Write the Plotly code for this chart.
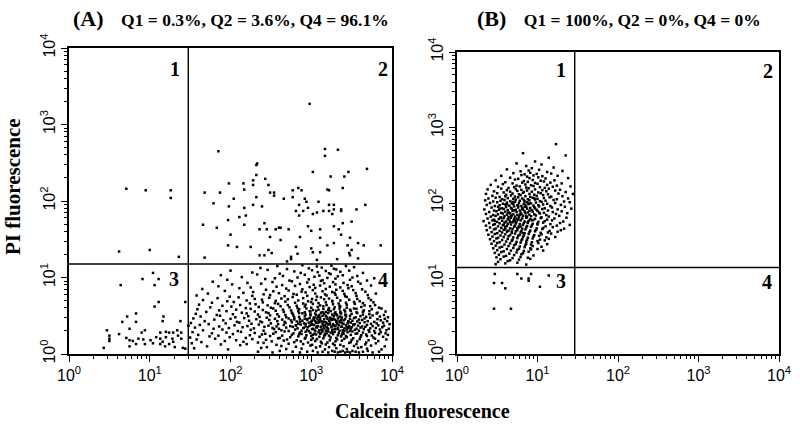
import plotly.graph_objects as go

# ---------------- DATA (log10 decades) ----------------
# Each event: (log10 calcein fluorescence, log10 PI fluorescence)
A_Q1 = [(0.71, 2.16), (0.95, 2.14), (1.26, 2.14), (1.26, 2.04), (0.62, 1.34), (1.00, 1.36), (1.36, 1.27)]

A_Q2 = [(2.98, 3.27), (1.85, 2.65), (3.17, 2.68), (3.33, 2.67), (3.17, 2.59), (2.33, 2.49), (2.32, 2.47),
        (3.02, 2.38), (3.69, 2.42), (3.46, 2.38), (2.32, 2.34), (3.24, 2.32), (3.41, 2.32), (2.28, 2.27),
        (2.43, 2.29), (1.98, 2.23), (2.16, 2.23), (2.28, 2.21), (2.47, 2.21), (2.17, 2.15), (1.68, 2.11),
        (1.87, 2.11), (2.49, 2.11), (2.54, 2.11), (2.54, 2.07), (2.84, 2.17), (2.88, 2.14), (2.77, 2.14),
        (3.20, 2.15), (3.22, 2.14), (3.39, 2.17), (2.32, 2.05), (2.04, 2.03), (2.66, 2.03), (2.77, 2.05),
        (2.92, 2.03), (2.94, 1.99), (3.09, 1.99), (1.79, 1.97), (1.98, 1.93), (2.28, 1.95), (2.39, 1.93),
        (2.17, 1.91), (2.85, 1.95), (2.96, 1.91), (3.22, 1.95), (3.28, 1.95), (3.67, 1.95), (2.81, 1.87),
        (2.90, 1.87), (3.07, 1.85), (3.15, 1.87), (3.22, 1.87), (3.28, 1.89), (3.37, 1.89), (3.37, 1.87),
        (3.56, 1.89), (2.19, 1.81), (2.11, 1.79), (2.85, 1.81), (3.02, 1.83), (3.26, 1.83), (1.97, 1.75),
        (2.17, 1.69), (1.66, 1.69), (1.83, 1.65), (2.42, 1.71), (3.39, 1.71), (3.50, 1.73), (2.36, 1.63),
        (2.45, 1.63), (2.56, 1.63), (2.60, 1.65), (2.62, 1.65), (2.72, 1.63), (2.96, 1.67), (3.00, 1.61),
        (3.11, 1.63), (3.28, 1.67), (3.34, 1.63), (2.00, 1.56), (2.49, 1.53), (2.62, 1.49), (2.86, 1.53),
        (3.11, 1.52), (3.37, 1.56), (3.48, 1.52), (1.97, 1.42), (2.08, 1.40), (2.25, 1.40), (2.81, 1.40),
        (3.00, 1.38), (3.20, 1.42), (3.28, 1.45), (3.45, 1.42), (3.58, 1.45), (3.65, 1.42), (3.86, 1.42),
        (2.47, 1.36), (2.51, 1.32), (2.36, 1.29), (2.42, 1.29), (2.83, 1.31), (3.02, 1.33), (3.11, 1.33),
        (3.47, 1.32), (3.48, 1.29), (3.50, 1.36), (2.75, 1.27), (2.70, 1.21), (2.75, 1.24), (3.32, 1.24),
        (3.58, 1.25), (1.68, 1.26), (3.07, 1.23)]

A_Q3 = [(1.04, 1.06), (0.91, 0.98), (1.06, 0.90), (0.64, 0.90), (1.11, 0.98), (1.44, 0.68), (1.06, 0.62),
        (1.11, 0.68), (0.72, 0.49), (0.83, 0.53), (1.17, 0.49), (1.16, 0.43), (0.66, 0.42), (0.83, 0.42),
        (1.38, 0.43), (0.75, 0.33), (0.47, 0.31), (0.94, 0.31), (0.90, 0.28), (1.13, 0.28), (1.20, 0.29),
        (1.24, 0.28), (1.29, 0.28), (1.34, 0.31), (1.39, 0.28), (0.62, 0.26), (0.50, 0.24), (0.50, 0.20),
        (0.50, 0.17), (0.71, 0.21), (0.75, 0.18), (0.79, 0.17), (0.86, 0.20), (0.92, 0.19), (1.01, 0.18),
        (1.08, 0.22), (1.13, 0.20), (1.20, 0.22), (1.28, 0.20), (1.35, 0.24), (1.39, 0.20), (0.83, 0.13),
        (0.94, 0.13), (1.13, 0.13), (1.19, 0.10), (1.24, 0.13), (1.31, 0.09), (0.43, 0.08), (0.75, 0.10),
        (1.41, 0.08), (1.44, 0.07), (1.04, 0.14), (1.16, 0.16), (1.29, 0.16)]

A_Q4 = [
    (2.34, .03), (2.52, .02), (2.61, .04), (2.77, .03), (2.86, .02), (2.95, .03), (3.02, .04), (3.08, .02), (3.14, .03), (3.21, .02), (3.26, .04), (3.29, .03), (3.33, .02), (3.36, .03), (3.39, .04), (3.42, .02), (3.45, .03), (3.48, .02), (3.51, .04), (3.55, .03), (3.59, .02), (3.64, .03), (3.70, .04), (3.76, .02), (3.84, .03),
    (1.55, .075), (1.97, .06), (2.38, .08), (2.69, .065), (2.88, .07), (3.06, .085), (3.17, .06), (3.31, .075), (3.44, .065), (3.58, .08), (3.69, .07), (3.87, .06),
    (1.71, .10), (2.12, .115), (2.45, .09), (2.63, .105), (2.81, .095), (2.99, .11), (3.11, .10), (3.22, .09), (3.29, .115), (3.40, .10), (3.53, .105), (3.62, .09), (3.74, .11), (3.91, .10),
    (1.52, .14), (1.88, .125), (2.20, .13), (2.41, .145), (2.57, .12), (2.72, .135), (2.90, .13), (3.01, .12), (3.13, .14), (3.18, .125), (3.27, .135), (3.36, .12), (3.47, .145), (3.56, .13), (3.67, .125), (3.80, .14),
    (1.64, .155), (1.93, .17), (2.16, .16), (2.34, .15), (2.51, .165), (2.66, .175), (2.79, .155), (2.87, .165), (2.96, .15), (3.05, .17), (3.12, .16), (3.20, .15), (3.30, .165), (3.38, .175), (3.49, .155), (3.57, .165), (3.68, .15), (3.83, .17),
    (1.58, .19), (1.81, .20), (2.07, .18), (2.27, .195), (2.44, .185), (2.59, .205), (2.70, .19), (2.82, .18), (2.92, .20), (3.00, .185), (3.07, .195), (3.15, .205), (3.23, .18), (3.32, .19), (3.41, .20), (3.50, .185), (3.60, .195), (3.71, .18), (3.79, .20), (3.93, .19),
    (1.50, .215), (1.74, .23), (1.99, .22), (2.19, .21), (2.36, .225), (2.49, .235), (2.61, .21), (2.74, .22), (2.84, .23), (2.93, .215), (3.02, .205), (3.10, .225), (3.16, .235), (3.24, .215), (3.31, .21), (3.37, .23), (3.44, .22), (3.52, .205), (3.61, .225), (3.69, .235), (3.77, .215), (3.89, .225),
    (1.60, .25), (1.85, .24), (2.03, .26), (2.24, .245), (2.39, .255), (2.53, .265), (2.64, .24), (2.76, .25), (2.85, .26), (2.94, .245), (3.00, .235), (3.06, .255), (3.11, .265), (3.17, .25), (3.22, .24), (3.27, .26), (3.33, .245), (3.38, .255), (3.43, .235), (3.49, .25), (3.55, .265), (3.62, .245), (3.68, .255), (3.75, .24), (3.84, .26), (3.95, .25),
    (1.53, .285), (1.77, .27), (1.95, .28), (2.13, .29), (2.30, .275), (2.43, .265), (2.56, .285), (2.67, .295), (2.78, .27), (2.86, .28), (2.93, .29), (2.99, .275), (3.04, .265), (3.09, .285), (3.14, .295), (3.19, .27), (3.24, .28), (3.29, .29), (3.34, .275), (3.40, .265), (3.45, .285), (3.51, .295), (3.57, .27), (3.64, .28), (3.72, .29), (3.79, .275), (3.86, .285), (3.92, .27),
    (1.66, .31), (1.90, .32), (2.09, .30), (2.25, .315), (2.41, .305), (2.54, .325), (2.63, .31), (2.72, .30), (2.80, .32), (2.88, .305), (2.95, .315), (3.01, .325), (3.05, .30), (3.10, .31), (3.13, .32), (3.18, .305), (3.21, .295), (3.26, .315), (3.30, .325), (3.35, .305), (3.39, .31), (3.44, .32), (3.48, .30), (3.54, .315), (3.59, .305), (3.65, .325), (3.71, .31), (3.78, .30), (3.85, .32), (3.93, .31),
    (1.56, .345), (1.79, .33), (1.98, .34), (2.15, .35), (2.29, .335), (2.42, .355), (2.52, .34), (2.60, .33), (2.69, .345), (2.77, .355), (2.83, .335), (2.90, .34), (2.96, .35), (3.02, .33), (3.07, .345), (3.12, .355), (3.16, .335), (3.20, .34), (3.25, .35), (3.29, .33), (3.33, .345), (3.37, .355), (3.41, .335), (3.46, .34), (3.50, .35), (3.56, .33), (3.61, .345), (3.67, .355), (3.73, .335), (3.80, .34), (3.88, .35), (3.96, .33),
    (1.48, .37), (1.62, .38), (1.86, .36), (2.05, .375), (2.21, .365), (2.35, .385), (2.47, .37), (2.57, .36), (2.66, .38), (2.74, .365), (2.81, .375), (2.87, .385), (2.93, .36), (2.98, .37), (3.03, .38), (3.08, .365), (3.12, .355), (3.17, .375), (3.21, .385), (3.25, .365), (3.30, .37), (3.34, .38), (3.38, .36), (3.43, .375), (3.47, .365), (3.52, .385), (3.58, .37), (3.63, .36), (3.69, .38), (3.76, .365), (3.83, .375), (3.90, .37),
    (1.51, .405), (1.73, .39), (1.94, .40), (2.11, .41), (2.26, .395), (2.39, .415), (2.50, .40), (2.59, .39), (2.68, .405), (2.76, .415), (2.84, .395), (2.91, .40), (2.97, .41), (3.01, .39), (3.06, .405), (3.10, .415), (3.14, .395), (3.19, .40), (3.23, .41), (3.27, .39), (3.32, .405), (3.36, .415), (3.40, .395), (3.45, .40), (3.49, .41), (3.54, .39), (3.60, .405), (3.66, .415), (3.74, .395), (3.81, .40), (3.89, .41), (3.97, .39),
    (1.68, .43), (1.91, .44), (2.08, .42), (2.23, .435), (2.37, .425), (2.48, .445), (2.58, .43), (2.67, .42), (2.75, .44), (2.82, .425), (2.89, .435), (2.95, .445), (3.00, .42), (3.05, .43), (3.09, .44), (3.13, .425), (3.18, .415), (3.22, .435), (3.26, .445), (3.31, .425), (3.35, .43), (3.40, .44), (3.46, .42), (3.51, .435), (3.57, .425), (3.63, .445), (3.70, .43), (3.78, .42), (3.86, .44), (3.94, .43),
    (1.54, .465), (1.80, .45), (2.00, .46), (2.17, .47), (2.32, .455), (2.45, .475), (2.55, .46), (2.64, .45), (2.72, .465), (2.79, .475), (2.86, .455), (2.92, .46), (2.98, .47), (3.03, .45), (3.07, .465), (3.11, .475), (3.16, .455), (3.20, .46), (3.24, .47), (3.29, .45), (3.33, .465), (3.38, .475), (3.42, .455), (3.48, .46), (3.53, .47), (3.59, .45), (3.66, .465), (3.73, .475), (3.82, .455), (3.91, .46),
    (1.63, .49), (1.87, .50), (2.06, .48), (2.22, .495), (2.36, .485), (2.49, .505), (2.60, .49), (2.69, .48), (2.78, .50), (2.85, .485), (2.92, .495), (2.99, .505), (3.04, .48), (3.09, .49), (3.14, .50), (3.19, .485), (3.23, .475), (3.28, .495), (3.32, .505), (3.37, .485), (3.43, .49), (3.48, .50), (3.55, .48), (3.61, .495), (3.68, .485), (3.76, .505), (3.85, .49), (3.95, .48),
    (1.57, .525), (1.83, .51), (2.03, .52), (2.20, .53), (2.34, .515), (2.47, .535), (2.58, .52), (2.68, .51), (2.77, .525), (2.85, .535), (2.93, .515), (2.99, .52), (3.05, .53), (3.10, .51), (3.16, .525), (3.21, .535), (3.26, .515), (3.31, .52), (3.37, .53), (3.43, .51), (3.50, .525), (3.57, .535), (3.64, .515), (3.72, .52), (3.81, .53), (3.90, .51),
    (1.70, .55), (1.95, .56), (2.14, .54), (2.30, .555), (2.44, .545), (2.56, .565), (2.66, .55), (2.76, .54), (2.84, .56), (2.92, .545), (2.99, .555), (3.06, .565), (3.12, .54), (3.18, .55), (3.24, .56), (3.30, .545), (3.36, .535), (3.42, .555), (3.49, .565), (3.56, .545), (3.64, .55), (3.72, .56), (3.82, .54), (3.92, .555),
    (1.59, .585), (1.86, .57), (2.07, .58), (2.25, .59), (2.40, .575), (2.53, .595), (2.65, .58), (2.75, .57), (2.85, .585), (2.94, .595), (3.02, .575), (3.09, .58), (3.15, .59), (3.22, .57), (3.28, .585), (3.35, .595), (3.41, .575), (3.48, .58), (3.56, .59), (3.65, .57), (3.75, .585), (3.87, .595),
    (1.75, .61), (2.01, .62), (2.19, .60), (2.35, .615), (2.50, .605), (2.62, .625), (2.73, .61), (2.83, .60), (2.92, .62), (3.00, .605), (3.08, .615), (3.15, .625), (3.22, .60), (3.29, .61), (3.36, .62), (3.44, .605), (3.53, .595), (3.62, .615), (3.73, .625), (3.84, .605),
    (1.61, .645), (1.90, .63), (2.12, .64), (2.31, .65), (2.46, .635), (2.59, .655), (2.71, .64), (2.82, .63), (2.93, .645), (3.02, .655), (3.11, .635), (3.19, .64), (3.27, .65), (3.35, .63), (3.44, .645), (3.54, .655), (3.66, .635), (3.79, .64),
    (1.77, .67), (2.04, .68), (2.24, .66), (2.40, .675), (2.55, .665), (2.68, .685), (2.80, .67), (2.90, .66), (3.00, .68), (3.09, .665), (3.18, .675), (3.26, .685), (3.34, .66), (3.43, .67), (3.53, .68), (3.64, .665), (3.77, .675),
    (1.66, .705), (1.96, .69), (2.20, .70), (2.39, .71), (2.56, .695), (2.71, .715), (2.84, .70), (2.96, .69), (3.06, .705), (3.16, .715), (3.26, .695), (3.36, .70), (3.47, .71), (3.60, .69), (3.74, .705),
    (1.84, .73), (2.10, .74), (2.30, .72), (2.48, .735), (2.63, .725), (2.77, .745), (2.90, .73), (3.01, .72), (3.12, .74), (3.22, .725), (3.32, .735), (3.44, .745), (3.57, .72), (3.71, .73),
    (1.58, .765), (1.99, .75), (2.27, .76), (2.49, .77), (2.67, .755), (2.82, .775), (2.95, .76), (3.07, .75), (3.19, .765), (3.30, .775), (3.42, .755), (3.56, .76), (3.70, .77),
    (1.72, .79), (2.16, .80), (2.41, .78), (2.60, .795), (2.78, .785), (2.93, .805), (3.05, .79), (3.17, .78), (3.29, .80), (3.41, .785), (3.55, .795), (3.80, .79),
    (1.93, .825), (2.28, .81), (2.53, .82), (2.72, .83), (2.88, .815), (3.02, .835), (3.14, .82), (3.26, .81), (3.39, .825), (3.52, .835), (3.67, .815),
    (1.65, .85), (2.11, .86), (2.44, .84), (2.69, .855), (2.89, .845), (3.05, .865), (3.18, .85), (3.31, .84), (3.46, .86), (3.63, .845),
    (1.85, .885), (2.25, .87), (2.57, .88), (2.80, .89), (2.98, .875), (3.11, .895), (3.23, .88), (3.36, .87), (3.50, .885), (3.74, .895),
    (2.02, .91), (2.38, .92), (2.64, .90), (2.86, .915), (3.03, .905), (3.16, .925), (3.30, .91), (3.45, .90), (3.61, .92),
    (1.78, .945), (2.21, .93), (2.52, .94), (2.76, .95), (2.95, .935), (3.12, .955), (3.27, .94), (3.40, .93), (3.58, .945),
    (1.96, .97), (2.43, .98), (2.73, .96), (2.97, .975), (3.14, .965), (3.30, .985), (3.48, .97), (3.69, .96),
    (2.14, 1.005), (2.55, .99), (2.83, 1.00), (3.04, 1.01), (3.20, .995), (3.33, 1.015), (3.51, 1.00), (3.78, .99),
    (1.88, 1.03), (2.33, 1.04), (2.65, 1.02), (2.92, 1.035), (3.10, 1.025), (3.24, 1.045), (3.39, 1.03), (3.57, 1.02),
    (2.27, 1.065), (2.61, 1.05), (2.87, 1.06), (3.08, 1.07), (3.22, 1.055), (3.36, 1.075), (3.64, 1.06),
    (2.00, 1.09), (2.46, 1.10), (2.79, 1.08), (3.01, 1.095), (3.18, 1.085), (3.31, 1.105), (3.47, 1.09),
    (2.37, 1.125), (2.70, 1.11), (2.97, 1.12), (3.13, 1.13), (3.28, 1.115), (3.53, 1.135),
    (2.58, 1.15), (2.89, 1.16), (3.07, 1.145), (3.25, 1.155), (3.43, 1.15),
]

A_Q4_CORE = [(2.88, .262), (2.97, .298), (3.04, .318), (3.12, .272), (3.19, .351), (3.26, .289), (3.33, .327),
             (3.41, .301), (2.91, .342), (3.00, .382), (3.08, .411), (3.15, .368), (3.23, .392), (3.31, .433),
             (3.38, .404), (3.44, .352), (2.86, .421), (2.95, .457), (3.03, .472), (3.11, .441), (3.18, .499),
             (3.27, .462), (3.35, .487), (3.42, .514), (2.89, .532), (2.98, .561), (3.06, .508), (3.14, .547),
             (3.21, .577), (3.29, .529), (3.36, .556), (3.13, .312), (3.21, .328), (3.28, .372), (3.06, .356),
             (3.16, .421), (3.24, .451), (3.32, .396), (3.01, .436), (2.93, .393), (3.09, .482), (3.37, .447),
             (3.46, .428), (3.52, .376), (3.49, .331), (2.81, .372), (2.79, .452), (3.17, .263), (3.39, .281),
             (3.02, .251)]

B_Q1 = [
    (1.23, 2.78), (0.82, 2.66), (1.35, 2.63), (1.14, 2.60), (0.97, 2.55), (0.74, 2.525), (1.05, 2.51),
    (0.86, 2.49), (1.20, 2.47), (0.62, 2.445), (0.93, 2.46), (1.02, 2.44),
    (0.79, 2.42), (0.89, 2.43), (1.12, 2.41), (1.31, 2.425),
    (0.70, 2.395), (0.84, 2.38), (0.91, 2.40), (0.99, 2.385), (1.17, 2.39),
    (0.55, 2.36), (0.80, 2.37), (0.87, 2.35), (0.95, 2.365), (1.06, 2.355), (1.25, 2.36),
    (0.66, 2.335), (0.76, 2.32), (0.90, 2.33), (1.01, 2.34), (1.10, 2.325), (1.38, 2.33),
    (0.48, 2.30), (0.72, 2.31), (0.83, 2.29), (0.94, 2.305), (1.04, 2.295), (1.21, 2.30),
    (0.60, 2.275), (0.69, 2.26), (0.81, 2.27), (0.88, 2.28), (0.97, 2.265), (1.08, 2.285), (1.16, 2.27), (1.30, 2.26),
    (0.42, 2.24), (0.57, 2.25), (0.74, 2.23), (0.85, 2.245), (0.92, 2.235), (1.00, 2.255), (1.12, 2.24), (1.24, 2.23),
    (0.51, 2.215), (0.64, 2.20), (0.71, 2.21), (0.78, 2.22), (0.86, 2.205), (0.95, 2.225), (1.03, 2.21), (1.09, 2.20), (1.19, 2.215), (1.41, 2.22),
    (0.38, 2.18), (0.55, 2.19), (0.62, 2.17), (0.73, 2.185), (0.80, 2.175), (0.89, 2.195), (0.97, 2.18), (1.06, 2.17), (1.14, 2.19), (1.28, 2.175),
    (0.46, 2.155), (0.58, 2.14), (0.66, 2.15), (0.75, 2.16), (0.83, 2.145), (0.87, 2.165), (0.93, 2.15), (1.01, 2.14), (1.11, 2.155), (1.22, 2.165), (1.35, 2.145),
    (0.36, 2.12), (0.50, 2.13), (0.61, 2.11), (0.69, 2.125), (0.77, 2.115), (0.82, 2.135), (0.90, 2.12), (0.96, 2.11), (1.04, 2.13), (1.13, 2.115), (1.26, 2.125), (1.44, 2.12),
    (0.44, 2.095), (0.53, 2.08), (0.60, 2.09), (0.67, 2.10), (0.72, 2.085), (0.79, 2.105), (0.85, 2.09), (0.91, 2.08), (0.99, 2.095), (1.07, 2.105), (1.17, 2.085), (1.31, 2.09),
    (0.39, 2.06), (0.48, 2.07), (0.56, 2.05), (0.63, 2.065), (0.70, 2.055), (0.76, 2.075), (0.81, 2.06), (0.88, 2.05), (0.94, 2.07), (1.00, 2.055), (1.08, 2.065), (1.15, 2.075), (1.24, 2.05), (1.38, 2.06),
    (0.35, 2.035), (0.45, 2.02), (0.54, 2.03), (0.59, 2.04), (0.66, 2.025), (0.73, 2.045), (0.78, 2.03), (0.84, 2.02), (0.90, 2.035), (0.97, 2.045), (1.03, 2.025), (1.10, 2.03), (1.20, 2.04), (1.33, 2.02),
    (0.41, 2.00), (0.50, 2.01), (0.57, 1.99), (0.62, 2.005), (0.68, 1.995), (0.72, 2.015), (0.77, 2.00), (0.83, 1.99), (0.87, 2.01), (0.92, 1.995), (0.98, 2.005), (1.05, 2.015), (1.12, 1.99), (1.22, 2.00), (1.40, 2.01),
    (0.37, 1.975), (0.47, 1.96), (0.53, 1.97), (0.60, 1.98), (0.65, 1.965), (0.70, 1.985), (0.75, 1.97), (0.80, 1.96), (0.85, 1.975), (0.89, 1.985), (0.95, 1.965), (1.01, 1.97), (1.07, 1.98), (1.16, 1.96), (1.29, 1.975),
    (0.43, 1.94), (0.51, 1.95), (0.56, 1.93), (0.61, 1.945), (0.67, 1.935), (0.71, 1.955), (0.76, 1.94), (0.81, 1.93), (0.86, 1.95), (0.91, 1.935), (0.96, 1.945), (1.02, 1.955), (1.09, 1.93), (1.18, 1.94), (1.34, 1.95),
    (0.34, 1.915), (0.46, 1.90), (0.52, 1.91), (0.58, 1.92), (0.63, 1.905), (0.68, 1.925), (0.73, 1.91), (0.78, 1.90), (0.82, 1.915), (0.87, 1.925), (0.93, 1.905), (0.99, 1.91), (1.06, 1.92), (1.13, 1.90), (1.25, 1.915), (1.42, 1.925),
    (0.40, 1.88), (0.49, 1.89), (0.55, 1.87), (0.60, 1.885), (0.64, 1.875), (0.69, 1.895), (0.74, 1.88), (0.79, 1.87), (0.84, 1.89), (0.88, 1.875), (0.94, 1.885), (1.00, 1.895), (1.08, 1.87), (1.19, 1.88), (1.30, 1.89),
    (0.36, 1.855), (0.45, 1.84), (0.51, 1.85), (0.57, 1.86), (0.62, 1.845), (0.66, 1.865), (0.70, 1.85), (0.75, 1.84), (0.80, 1.855), (0.85, 1.865), (0.90, 1.845), (0.96, 1.85), (1.03, 1.86), (1.11, 1.84), (1.23, 1.855), (1.37, 1.865),
    (0.42, 1.82), (0.48, 1.83), (0.54, 1.81), (0.59, 1.825), (0.64, 1.815), (0.68, 1.835), (0.72, 1.82), (0.77, 1.81), (0.82, 1.83), (0.87, 1.815), (0.92, 1.825), (0.98, 1.835), (1.05, 1.81), (1.14, 1.82), (1.27, 1.83),
    (0.38, 1.795), (0.46, 1.78), (0.52, 1.79), (0.58, 1.80), (0.63, 1.785), (0.67, 1.805), (0.71, 1.79), (0.76, 1.78), (0.81, 1.795), (0.86, 1.805), (0.91, 1.785), (0.97, 1.79), (1.04, 1.80), (1.12, 1.78), (1.21, 1.795), (1.36, 1.805),
    (0.33, 1.76), (0.44, 1.77), (0.50, 1.75), (0.56, 1.765), (0.61, 1.755), (0.65, 1.775), (0.70, 1.76), (0.74, 1.75), (0.79, 1.77), (0.84, 1.755), (0.89, 1.765), (0.95, 1.775), (1.01, 1.75), (1.09, 1.76), (1.18, 1.77), (1.32, 1.755),
    (0.40, 1.735), (0.47, 1.72), (0.53, 1.73), (0.59, 1.74), (0.63, 1.725), (0.69, 1.745), (0.73, 1.73), (0.78, 1.72), (0.83, 1.735), (0.88, 1.745), (0.94, 1.725), (1.00, 1.73), (1.07, 1.74), (1.16, 1.72), (1.28, 1.735),
    (0.36, 1.70), (0.45, 1.71), (0.51, 1.69), (0.57, 1.705), (0.62, 1.695), (0.67, 1.715), (0.72, 1.70), (0.77, 1.69), (0.82, 1.71), (0.87, 1.695), (0.93, 1.705), (1.00, 1.715), (1.10, 1.69), (1.24, 1.70), (1.40, 1.71),
    (0.41, 1.675), (0.48, 1.66), (0.55, 1.67), (0.60, 1.68), (0.66, 1.665), (0.71, 1.685), (0.76, 1.67), (0.81, 1.66), (0.86, 1.675), (0.92, 1.685), (0.99, 1.665), (1.07, 1.67), (1.19, 1.68), (1.33, 1.66),
    (0.37, 1.64), (0.46, 1.65), (0.53, 1.63), (0.58, 1.645), (0.64, 1.635), (0.69, 1.655), (0.75, 1.64), (0.80, 1.63), (0.85, 1.65), (0.91, 1.635), (0.98, 1.645), (1.06, 1.655), (1.15, 1.63), (1.29, 1.64),
    (0.43, 1.615), (0.50, 1.60), (0.56, 1.61), (0.62, 1.62), (0.68, 1.605), (0.73, 1.625), (0.79, 1.61), (0.84, 1.60), (0.90, 1.615), (0.97, 1.625), (1.04, 1.605), (1.13, 1.61), (1.25, 1.62),
    (0.39, 1.58), (0.47, 1.59), (0.54, 1.57), (0.60, 1.585), (0.66, 1.575), (0.72, 1.595), (0.78, 1.58), (0.83, 1.57), (0.89, 1.59), (0.96, 1.575), (1.05, 1.585), (1.17, 1.595),
    (0.44, 1.555), (0.51, 1.54), (0.58, 1.55), (0.64, 1.56), (0.70, 1.545), (0.76, 1.565), (0.82, 1.55), (0.88, 1.54), (0.95, 1.555), (1.02, 1.565), (1.11, 1.545), (1.22, 1.55),
    (0.41, 1.52), (0.49, 1.53), (0.56, 1.51), (0.63, 1.525), (0.69, 1.515), (0.75, 1.535), (0.81, 1.52), (0.87, 1.51), (0.94, 1.53), (1.03, 1.515), (1.14, 1.525),
    (0.46, 1.495), (0.53, 1.48), (0.61, 1.49), (0.68, 1.50), (0.74, 1.485), (0.80, 1.505), (0.86, 1.49), (0.93, 1.48), (1.00, 1.495), (1.09, 1.505),
    (0.43, 1.46), (0.50, 1.47), (0.59, 1.45), (0.66, 1.465), (0.73, 1.455), (0.79, 1.475), (0.86, 1.46), (0.92, 1.45), (1.01, 1.47), (1.12, 1.455),
    (0.48, 1.435), (0.56, 1.42), (0.64, 1.43), (0.71, 1.44), (0.78, 1.425), (0.85, 1.445), (0.94, 1.43), (1.05, 1.42),
    (0.45, 1.40), (0.53, 1.41), (0.62, 1.39), (0.70, 1.405), (0.77, 1.395), (0.84, 1.415), (0.91, 1.40), (1.00, 1.39),
    (0.50, 1.375), (0.58, 1.36), (0.67, 1.37), (0.75, 1.38), (0.83, 1.365), (0.92, 1.385), (1.07, 1.37),
    (0.47, 1.34), (0.55, 1.35), (0.65, 1.33), (0.74, 1.345), (0.82, 1.335), (0.89, 1.355),
    (0.52, 1.315), (0.61, 1.30), (0.71, 1.31), (0.80, 1.32), (0.95, 1.305),
    (0.49, 1.28), (0.58, 1.29), (0.69, 1.27), (0.79, 1.285), (0.88, 1.275),
    (0.54, 1.255), (0.66, 1.24), (0.77, 1.25), (0.91, 1.26),
    (0.51, 1.22), (0.63, 1.23), (0.75, 1.21),
    (0.48, 1.19), (0.60, 1.20), (0.86, 1.185),
]

B_Q1_CORE = [(0.58, 1.712), (0.66, 1.748), (0.74, 1.792), (0.79, 1.688), (0.86, 1.829), (0.93, 1.771),
             (0.64, 1.868), (0.71, 1.902), (0.78, 1.842), (0.84, 1.951), (0.90, 1.897), (0.97, 1.928),
             (0.55, 1.806), (0.62, 1.982), (0.69, 2.012), (0.76, 1.962), (0.83, 2.041), (0.89, 1.994),
             (0.96, 2.062), (1.02, 1.872), (0.60, 1.652), (0.68, 1.622), (0.75, 1.668), (0.82, 1.602),
             (0.88, 1.736), (0.53, 1.924), (0.47, 1.762), (0.72, 1.762), (0.81, 1.918), (0.67, 1.828)]

B_Q3 = [(0.47, 1.06), (0.56, 0.94), (0.46, 0.94), (0.60, 0.87), (0.75, 1.06), (0.80, 1.00), (0.89, 1.00),
        (0.89, 0.97), (0.92, 1.06), (1.03, 0.89), (1.14, 1.04), (0.46, 0.60), (0.67, 0.60)]

# Quadrant gates (calcein, PI)
A_GATE = (30, 15)
B_GATE = (29, 14)

TITLE_A = ("(A)", "Q1 = 0.3%, Q2 = 3.6%, Q4 = 96.1%")
TITLE_B = ("(B)", "Q1 = 100%, Q2 = 0%, Q4 = 0%")
X_TITLE = "Calcein fluorescence"
Y_TITLE = "PI fluorescence"
DECADES = [1, 10, 100, 1000, 10000]
DECADE_LABELS = ["10<sup>0</sup>", "10<sup>1</sup>", "10<sup>2</sup>", "10<sup>3</sup>", "10<sup>4</sup>"]
MINOR = [m * d for d in [1, 10, 100, 1000] for m in range(2, 10)]


def from_pairs(*groups):
    xs, ys = [], []
    for pairs in groups:
        for lx, ly in pairs:
            xs.append(10 ** lx)
            ys.append(10 ** ly)
    return xs, ys


SERIF = "Liberation Serif"
SANS = "Liberation Sans"
W, H = 800, 429

fig = go.Figure()
marker = dict(symbol="square", size=2.5, color="black", line=dict(width=0))


def add_points(xs, ys, xa, ya):
    fig.add_trace(go.Scatter(x=xs, y=ys, mode="markers", marker=marker,
                             xaxis=xa, yaxis=ya, showlegend=False, hoverinfo="skip"))


add_points(*from_pairs(A_Q1, A_Q2, A_Q3, A_Q4, A_Q4_CORE), "x", "y")
add_points(*from_pairs(B_Q1, B_Q1_CORE, B_Q3), "x2", "y2")

for (gx, gy), xa, ya in ((A_GATE, "x", "y"), (B_GATE, "x2", "y2")):
    fig.add_trace(go.Scatter(x=[gx, gx], y=[1, 10000], mode="lines", line=dict(color="black", width=1.4),
                             xaxis=xa, yaxis=ya, showlegend=False, hoverinfo="skip"))
    fig.add_trace(go.Scatter(x=[1, 10000], y=[gy, gy], mode="lines", line=dict(color="black", width=1.4),
                             xaxis=xa, yaxis=ya, showlegend=False, hoverinfo="skip"))


def px(x):
    return x / W


def py(y):
    return 1 - y / H


axis_common = dict(type="log", range=[0, 4], showgrid=False, zeroline=False, showline=True,
                   mirror=True, linecolor="black", linewidth=1.6, ticks="outside", ticklen=6,
                   tickwidth=1.2, tickcolor="black", tickmode="array", tickvals=DECADES,
                   ticktext=DECADE_LABELS, tickfont=dict(family=SANS, size=16, color="black"),
                   automargin=False,
                   minor=dict(tickmode="array", tickvals=MINOR, ticks="outside", ticklen=3,
                              tickwidth=1, tickcolor="black"))

fig.update_layout(
    width=W, height=H, margin=dict(l=0, r=0, t=0, b=0, autoexpand=False),
    paper_bgcolor="white", plot_bgcolor="white",
    xaxis=dict(axis_common, domain=[px(69), px(392)], anchor="y"),
    yaxis=dict(axis_common, domain=[py(354), py(48)], anchor="x", tickangle=-90),
    xaxis2=dict(axis_common, domain=[px(457), px(779)], anchor="y2"),
    yaxis2=dict(axis_common, domain=[py(354), py(52)], anchor="x2", tickangle=-90),
)

ann = []


def text(x, y, s, size, angle=0):
    ann.append(dict(x=px(x), y=py(y), xref="paper", yref="paper", text=s, showarrow=False,
                    textangle=angle, font=dict(family=SERIF, size=size, color="black"),
                    xanchor="center", yanchor="middle"))


for (tag, body), cx in ((TITLE_A, 231), (TITLE_B, 619)):
    text(cx, 18, "<b><span style='font-size:22px'>" + tag + "</span>&nbsp;&nbsp;&nbsp;&nbsp;" + body + "</b>", 17.5)

for lab, x, y in (("1", 175, 69), ("2", 383, 69), ("3", 174, 279), ("4", 383, 280),
                  ("1", 561, 70), ("2", 768, 71), ("3", 561, 281), ("4", 767, 282)):
    text(x, y, "<b>" + lab + "</b>", 20)

text(422, 411, "<b>" + X_TITLE + "</b>", 20)
text(13, 187, "<b>" + Y_TITLE + "</b>", 21, angle=-90)

fig.update_layout(annotations=ann)
fig.write_html("out.html", config={"displayModeBar": False},
               post_script="document.body.style.margin='0px';document.body.style.overflow='hidden';")
